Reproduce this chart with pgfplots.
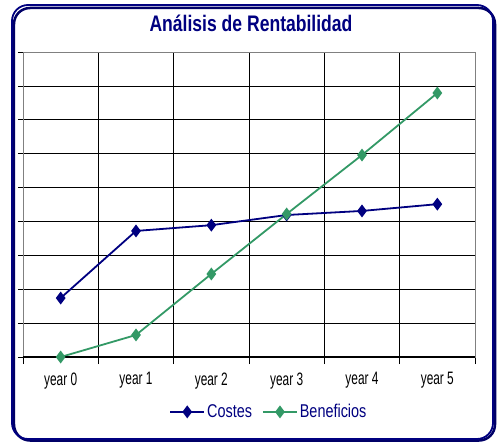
\documentclass[border=0pt]{standalone}
\usepackage{fontspec}
\setmainfont{Liberation Sans}[FakeStretch=0.78]
\newfontfamily\titlefont{Liberation Sans}[FakeStretch=0.78]
\newfontfamily\tickfont{Liberation Sans}[FakeStretch=0.66]
\newfontfamily\legfont{Liberation Sans}[FakeStretch=0.78]
\usepackage{pgfplots}
\pgfplotsset{compat=1.18}
\definecolor{navy}{RGB}{0,0,128}
\definecolor{sea}{RGB}{51,153,102}
\begin{document}
\begin{tikzpicture}[x=1pt,y=1pt]
\begin{axis}[
  scale only axis, width=452pt, height=305pt,
  xmin=0, xmax=6, ymin=0, ymax=9,
  xtick={0.5,1.5,2.5,3.5,4.5,5.5},
  xticklabels={year 0,year 1,year 2,year 3,year 4,year 5},
  major x tick style={draw=none},
  minor xtick={0,1,2,3,4,5,6},
  minor x tick style={black, line width=0.8pt},
  minor tick length=7pt,
  xminorgrids=true,
  minor x grid style={black, line width=0.6pt},
  ytick={0,1,...,8},
  extra y ticks={9}, extra y tick labels={},
  extra y tick style={grid=none},
  yticklabels={},
  ymajorgrids=true,
  major y grid style={black, line width=0.6pt},
  major y tick style={black, line width=0.6pt},
  major tick length=5pt,
  tick align=outside,
  xtick pos=bottom, ytick pos=left,
  axis line style={gray, line width=0.9pt},
  ticklabel style={font=\tickfont\fontsize{18}{18}\selectfont, text=black},
  xticklabel style={yshift=-7pt},
  legend style={at={(0.544,-0.18)}, anchor=center, draw=none, fill=none,
    legend columns=2, font=\legfont\fontsize{18.5}{18.5}\selectfont, text=navy,
    /tikz/every even column/.append style={column sep=8pt}},
  legend image code/.code={\draw[mark repeat=2,mark phase=2] plot coordinates {(0pt,0pt)(17pt,0pt)(34pt,0pt)};},
]
\addplot[navy, line width=1.8pt, mark=diamond*, mark size=5pt, mark options={solid}]
  coordinates {(0.5,1.74) (1.5,3.72) (2.5,3.89) (3.5,4.19) (4.5,4.31) (5.5,4.51)};
\addlegendentry{Costes}
\addplot[sea, line width=1.8pt, mark=diamond*, mark size=5pt, mark options={solid}]
  coordinates {(0.5,0) (1.5,0.65) (2.5,2.45) (3.5,4.22) (4.5,5.96) (5.5,7.79)};
\addlegendentry{Beneficios}
\draw[black, line width=1.4pt] (rel axis cs:0,0) -- (rel axis cs:1,0);
\end{axis}
\begin{scope}[shift={(-23,-85)}]
\draw[navy!80!black, line width=2.5pt, rounded corners=16pt] (14,1.5) rectangle (495,434);
\draw[navy, line width=1.8pt, rounded corners=16pt] (12,3) rectangle (493,437);
\node[font=\titlefont\bfseries\fontsize{22.5}{22.5}\selectfont, text=navy] at (251,419) {Análisis de Rentabilidad};
\end{scope}
\pgfresetboundingbox
\path[use as bounding box] (-23,-85) rectangle (475,357);
\end{tikzpicture}
\end{document}
